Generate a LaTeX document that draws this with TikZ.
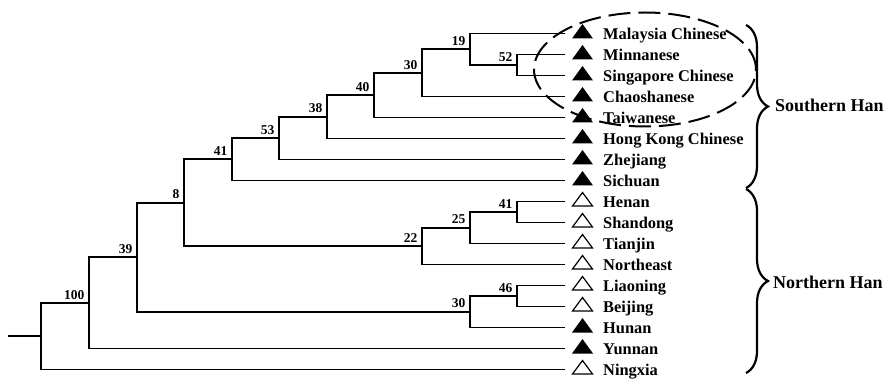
\documentclass[tikz,border=0pt]{standalone}
\usepackage{fontspec}
\setmainfont{Liberation Serif}
\usetikzlibrary{decorations.pathreplacing}
\begin{document}
\begin{tikzpicture}[x=1pt,y=-1pt,
  branch/.style={line width=1.8pt, line join=miter},
  boot/.style={font=\fontsize{13.5}{13}\selectfont\bfseries, inner sep=0pt, anchor=south east},
  leaflabel/.style={font=\fontsize{16.4}{16}\selectfont\bfseries, inner sep=0pt, anchor=base west},
  grouplabel/.style={font=\fontsize{18}{18}\selectfont\bfseries, inner sep=0pt, anchor=base west},
  bracestyle/.style={decorate, decoration={brace, amplitude=22pt}, line width=2.2pt},
  cladeline/.style={dash pattern=on 22pt off 8pt, line width=2pt},
  filltri/.pic={\fill (-10.5,5) -- (10.5,5) -- (0,-9.5) -- cycle;},
  opentri/.pic={\draw[line width=1.2pt, line join=miter] (-10,4.5) -- (10,4.5) -- (0,-9) -- cycle;},
]
\useasboundingbox (0,0) rectangle (896,379);

% leaves
\foreach \i/\name/\kind in {
  0/Malaysia Chinese/filltri, 1/Minnanese/filltri, 2/Singapore Chinese/filltri,
  3/Chaoshanese/filltri, 4/Taiwanese/filltri, 5/Hong Kong Chinese/filltri,
  6/Zhejiang/filltri, 7/Sichuan/filltri, 8/Henan/opentri, 9/Shandong/opentri,
  10/Tianjin/opentri, 11/Northeast/opentri, 12/Liaoning/opentri, 13/Beijing/opentri,
  14/Hunan/filltri, 15/Yunnan/filltri, 16/Ningxia/opentri}{
  \coordinate (e\i) at (565,{33.5+21*\i});
  \pic (t\i) at (582.5,{33.5+21*\i}) {\kind};
  \node[leaflabel] (l\i) at (603,{39.3+21*\i}) {\name};
}

% internal nodes
\coordinate (n52) at (517,65);
\coordinate (n19) at (470,49.25);
\coordinate (n30) at (422,72.9);
\coordinate (n40) at (374,95.2);
\coordinate (n38) at (327,116.8);
\coordinate (n53) at (279,138.2);
\coordinate (n41) at (232,159.3);
\coordinate (n41b) at (517,212);
\coordinate (n25) at (470,227.75);
\coordinate (n22) at (422,246.1);
\coordinate (n8) at (184,202.7);
\coordinate (n46) at (517,296);
\coordinate (n30b) at (470,311.75);
\coordinate (n39) at (137,257.2);
\coordinate (n100) at (89,302.9);
\coordinate (root) at (41.3,336.2);
\coordinate (stub) at (8,336.2);

\draw[branch] (n52) |- (e1);  \draw[branch] (n52) |- (e2);
\draw[branch] (n19) |- (e0);  \draw[branch] (n19) |- (n52);
\draw[branch] (n30) |- (n19); \draw[branch] (n30) |- (e3);
\draw[branch] (n40) |- (n30); \draw[branch] (n40) |- (e4);
\draw[branch] (n38) |- (n40); \draw[branch] (n38) |- (e5);
\draw[branch] (n53) |- (n38); \draw[branch] (n53) |- (e6);
\draw[branch] (n41) |- (n53); \draw[branch] (n41) |- (e7);
\draw[branch] (n41b) |- (e8); \draw[branch] (n41b) |- (e9);
\draw[branch] (n25) |- (n41b); \draw[branch] (n25) |- (e10);
\draw[branch] (n22) |- (n25); \draw[branch] (n22) |- (e11);
\draw[branch] (n8) |- (n41);  \draw[branch] (n8) |- (n22);
\draw[branch] (n46) |- (e12); \draw[branch] (n46) |- (e13);
\draw[branch] (n30b) |- (n46); \draw[branch] (n30b) |- (e14);
\draw[branch] (n39) |- (n8);  \draw[branch] (n39) |- (n30b);
\draw[branch] (n100) |- (n39); \draw[branch] (n100) |- (e15);
\draw[branch] (root) |- (n100); \draw[branch] (root) |- (e16);
\draw[branch] (stub) -- (root);

% bootstrap values
\node[boot] (b52) at (512.5,61.5) {52};
\node[boot] (b19) at (465.5,45.75) {19};
\node[boot] (b30) at (417.5,69.4) {30};
\node[boot] (b40) at (369.5,91.7) {40};
\node[boot] (b38) at (322.5,113.3) {38};
\node[boot] (b53) at (274.5,134.7) {53};
\node[boot] (b41) at (227.5,155.8) {41};
\node[boot] (b41b) at (512.5,208.5) {41};
\node[boot] (b25) at (465.5,224.25) {25};
\node[boot] (b22) at (417.5,242.6) {22};
\node[boot] (b8) at (179.5,199.2) {8};
\node[boot] (b46) at (512.5,292.5) {46};
\node[boot] (b30b) at (465.5,308.25) {30};
\node[boot] (b39) at (132.5,253.7) {39};
\node[boot] (b100) at (84.5,299.4) {100};

% dashed ellipse
\coordinate (cladecenter) at (645,69.5);
\draw[cladeline] (cladecenter) ellipse [x radius=111pt, y radius=57pt];

% braces
\coordinate (sTop) at (746,25);
\coordinate (sBot) at (746,188);
\coordinate (nTop) at (746,189);
\coordinate (nBot) at (746,373);
\draw[bracestyle] (sTop) -- (sBot);
\draw[bracestyle] (nTop) -- (nBot);
\node[grouplabel] (south) at (775,111.7) {Southern Han};
\node[grouplabel] (north) at (773,288.3) {Northern Han};
\end{tikzpicture}
\end{document}
